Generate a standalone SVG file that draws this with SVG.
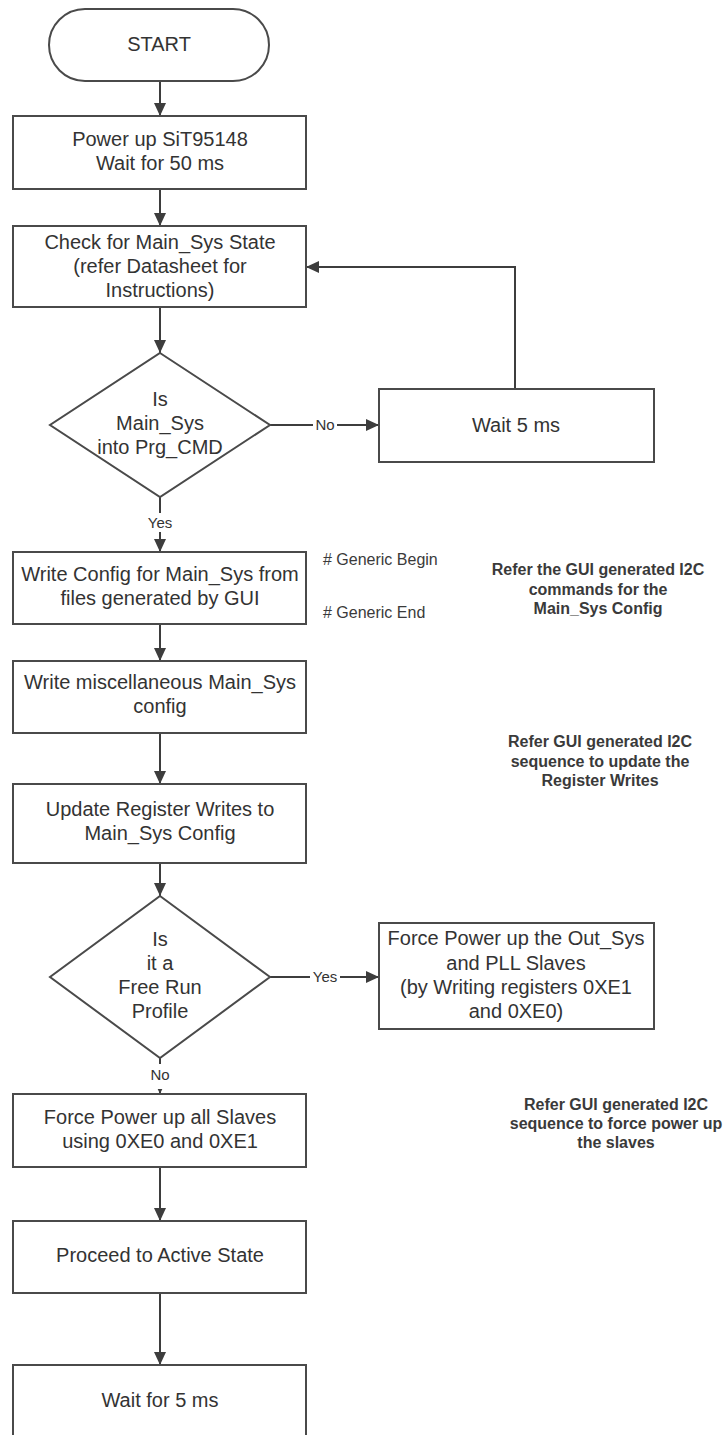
<svg xmlns="http://www.w3.org/2000/svg" width="728" height="1435" viewBox="0 0 728 1435">
<defs>
<marker id="arr" markerUnits="userSpaceOnUse" markerWidth="14" markerHeight="12" refX="13" refY="6" orient="auto">
<path d="M0,0 L13,6 L0,12 Z" fill="#3d3d3d"/>
</marker>
<style>
.shape{fill:#ffffff;stroke:#4a4a4a;stroke-width:2}
.t{font-family:"Liberation Sans",Arial,sans-serif;font-size:20px;fill:#333333;text-anchor:middle}
.lbl{font-family:"Liberation Sans",Arial,sans-serif;font-size:15px;fill:#333333;text-anchor:middle}
.note{font-family:"Liberation Sans",Arial,sans-serif;font-size:16px;font-weight:bold;fill:#3a3a3a;text-anchor:middle}
.gen{font-family:"Liberation Sans",Arial,sans-serif;font-size:16px;fill:#3a3a3a}
.c{fill:none;stroke:#3d3d3d;stroke-width:2}
</style>
</defs>
<rect width="728" height="1435" fill="#ffffff"/>

<g id="connectors">
<line class="c" x1="160" y1="81" x2="160" y2="116" marker-end="url(#arr)"/>
<line class="c" x1="160" y1="189" x2="160" y2="226" marker-end="url(#arr)"/>
<line class="c" x1="160" y1="307" x2="160" y2="353" marker-end="url(#arr)"/>
<line class="c" x1="270" y1="425" x2="379" y2="425" marker-end="url(#arr)"/>
<polyline class="c" points="515,389 515,267 306,267" marker-end="url(#arr)"/>
<line class="c" x1="160" y1="497" x2="160" y2="552" marker-end="url(#arr)"/>
<line class="c" x1="160" y1="624" x2="160" y2="661" marker-end="url(#arr)"/>
<line class="c" x1="160" y1="733" x2="160" y2="784" marker-end="url(#arr)"/>
<line class="c" x1="160" y1="863" x2="160" y2="896" marker-end="url(#arr)"/>
<line class="c" x1="270" y1="977" x2="379" y2="977" marker-end="url(#arr)"/>
<line class="c" x1="160" y1="1058" x2="160" y2="1094" marker-end="url(#arr)"/>
<line class="c" x1="160" y1="1167" x2="160" y2="1221" marker-end="url(#arr)"/>
<line class="c" x1="160" y1="1293" x2="160" y2="1365" marker-end="url(#arr)"/>
<rect x="313" y="415" width="24" height="19" fill="#ffffff"/>
<text class="lbl" x="325" y="430">No</text>
<rect x="310" y="967" width="30" height="19" fill="#ffffff"/>
<text class="lbl" x="325" y="982">Yes</text>
<rect x="145" y="513" width="30" height="19" fill="#ffffff"/>
<text class="lbl" x="160" y="528">Yes</text>
<rect x="148" y="1064" width="24" height="25" fill="#ffffff"/>
<text class="lbl" x="160" y="1080">No</text>
</g>

<g id="start">
<rect class="shape" x="49" y="9" width="220" height="72" rx="36" ry="36"/>
<text class="t" x="159" y="51">START</text>
</g>

<g id="power-up">
<rect class="shape" x="13" y="116" width="293" height="73"/>
<text class="t" x="160" y="146">Power up SiT95148</text>
<text class="t" x="160" y="170">Wait for 50 ms</text>
</g>

<g id="check-state">
<rect class="shape" x="13" y="226" width="293" height="81"/>
<text class="t" x="160" y="249">Check for Main_Sys State</text>
<text class="t" x="160" y="273">(refer Datasheet for</text>
<text class="t" x="160" y="297">Instructions)</text>
</g>

<g id="decision-prg-cmd">
<polygon class="shape" points="160,353 270,425 160,497 50,425"/>
<text class="t" x="160" y="406">Is</text>
<text class="t" x="160" y="430">Main_Sys</text>
<text class="t" x="160" y="454">into Prg_CMD</text>
</g>

<g id="wait-5ms">
<rect class="shape" x="379" y="389" width="275" height="73"/>
<text class="t" x="516" y="432">Wait 5 ms</text>
</g>

<g id="write-config">
<rect class="shape" x="13" y="552" width="293" height="72"/>
<text class="t" x="160" y="581">Write Config for Main_Sys from</text>
<text class="t" x="160" y="605">files generated by GUI</text>
</g>

<g id="generic-markers">
<text class="gen" x="323" y="565"># Generic Begin</text>
<text class="gen" x="323" y="618"># Generic End</text>
</g>

<g id="note-main-sys">
<text class="note" x="598" y="575">Refer the GUI generated I2C</text>
<text class="note" x="598" y="595">commands for the</text>
<text class="note" x="598" y="614">Main_Sys Config</text>
</g>

<g id="write-misc">
<rect class="shape" x="13" y="661" width="293" height="72"/>
<text class="t" x="160" y="689">Write miscellaneous Main_Sys</text>
<text class="t" x="160" y="713">config</text>
</g>

<g id="note-register">
<text class="note" x="600" y="747">Refer GUI generated I2C</text>
<text class="note" x="600" y="767">sequence to update the</text>
<text class="note" x="600" y="786">Register Writes</text>
</g>

<g id="update-register">
<rect class="shape" x="13" y="784" width="293" height="79"/>
<text class="t" x="160" y="816">Update Register Writes to</text>
<text class="t" x="160" y="840">Main_Sys Config</text>
</g>

<g id="decision-free-run">
<polygon class="shape" points="160,896 270,977 160,1058 50,977"/>
<text class="t" x="160" y="946">Is</text>
<text class="t" x="160" y="970">it a</text>
<text class="t" x="160" y="994">Free Run</text>
<text class="t" x="160" y="1018">Profile</text>
</g>

<g id="force-out-sys">
<rect class="shape" x="379" y="923" width="275" height="106"/>
<text class="t" x="516" y="945">Force Power up the Out_Sys</text>
<text class="t" x="516" y="970">and PLL Slaves</text>
<text class="t" x="516" y="994">(by Writing registers 0XE1</text>
<text class="t" x="516" y="1018">and 0XE0)</text>
</g>

<g id="force-all">
<rect class="shape" x="13" y="1094" width="293" height="73"/>
<text class="t" x="160" y="1124">Force Power up all Slaves</text>
<text class="t" x="160" y="1148">using 0XE0 and 0XE1</text>
</g>

<g id="note-force">
<text class="note" x="616" y="1110">Refer GUI generated I2C</text>
<text class="note" x="616" y="1129">sequence to force power up</text>
<text class="note" x="616" y="1148">the slaves</text>
</g>

<g id="active-state">
<rect class="shape" x="13" y="1221" width="293" height="72"/>
<text class="t" x="160" y="1262">Proceed to Active State</text>
</g>

<g id="wait-for-5ms">
<rect class="shape" x="13" y="1365" width="293" height="80"/>
<text class="t" x="160" y="1407">Wait for 5 ms</text>
</g>
</svg>
